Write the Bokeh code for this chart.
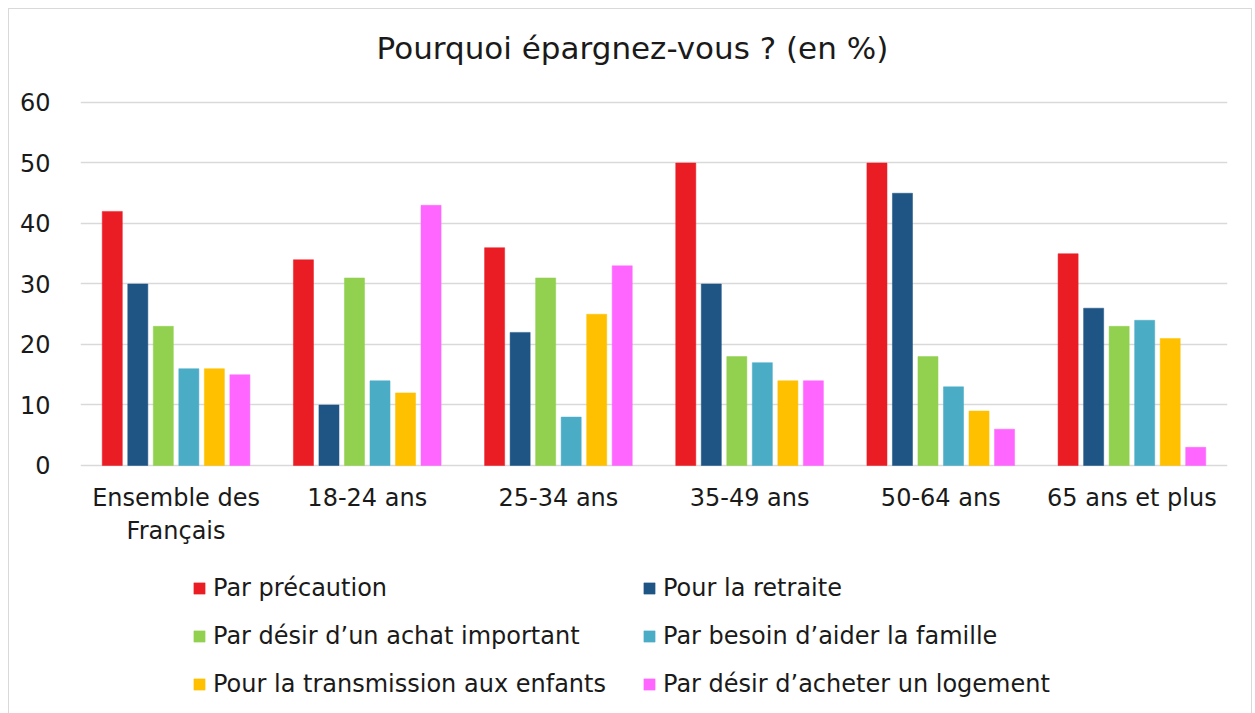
from bokeh.plotting import figure
from bokeh.models import FactorRange, Range1d, Legend, LegendItem, FixedTicker, ColumnDataSource
from bokeh.transform import dodge
from bokeh.core.properties import value
from bokeh.embed import file_html
from bokeh.resources import INLINE

categories = ["Ensemble des\nFrançais", "18-24 ans", "25-34 ans", "35-49 ans", "50-64 ans", "65 ans et plus"]
series_names = [
    "Par précaution",
    "Pour la retraite",
    "Par désir d\u2019un achat important",
    "Par besoin d\u2019aider la famille",
    "Pour la transmission aux enfants",
    "Par désir d\u2019acheter un logement",
]
precaution = [42, 34, 36, 50, 50, 35]
retraite = [30, 10, 22, 30, 45, 26]
achat = [23, 31, 31, 18, 18, 23]
famille = [16, 14, 8, 17, 13, 24]
transmission = [16, 12, 25, 14, 9, 21]
logement = [15, 43, 33, 14, 6, 3]
y_ticks = [0, 10, 20, 30, 40, 50, 60]
title_text = "Pourquoi épargnez-vous ? (en %)"

colors = ["#EA1D25", "#1F5585", "#92D050", "#4BACC6", "#FFC000", "#FF66FF"]
all_series = [precaution, retraite, achat, famille, transmission, logement]
keys = ["s0", "s1", "s2", "s3", "s4", "s5"]

data = {"cat": categories, "zero": [0] * len(categories)}
for k, s in zip(keys, all_series):
    data[k] = s
source = ColumnDataSource(data)

FONT = "DejaVu Sans"
TXT = "#1a1a1a"

# frame covers the whole chart area: title space above 60, labels and legend below 0
p = figure(
    x_range=FactorRange(*categories, range_padding=0),
    y_range=Range1d(-39.67, 75.37),
    frame_width=1147, frame_height=696,
    output_backend="svg", toolbar_location=None,
    min_border_left=71, min_border_right=24, min_border_top=0, min_border_bottom=8,
)
p.styles = {"border": "1px solid #d9d9d9", "margin-left": "8px", "margin-top": "8px"}

step = 0.1335
bw = 0.105
renderers = []
for i, (k, c) in enumerate(zip(keys, colors)):
    r = p.vbar(x=dodge("cat", (i - 2.5) * step, range=p.x_range), top=k, width=bw,
               source=source, fill_color=c, line_color=c, line_width=0.5)
    renderers.append(r)

# category labels under the zero line
p.text(x="cat", y="zero", text="cat", source=source, y_offset=19,
       text_align="center", text_baseline="top", text_font=value(FONT),
       text_font_size="24px", text_color=TXT, text_line_height=1.17)

# chart title, centred over the whole chart
title_src = ColumnDataSource(dict(x=[categories[2]], y=[y_ticks[-1]], t=[title_text]))
p.text(x="x", y="y", text="t", source=title_src, x_offset=74, y_offset=-54,
       text_align="center", text_baseline="middle", text_font=value(FONT),
       text_font_size="31px", text_color=TXT)

p.outline_line_color = None
p.xgrid.grid_line_color = None
p.ygrid.grid_line_color = "#d9d9d9"
p.ygrid.grid_line_width = 1.5
p.ygrid.ticker = FixedTicker(ticks=y_ticks)
p.yaxis.ticker = FixedTicker(ticks=y_ticks)
p.yaxis.axis_line_color = None
p.yaxis.major_tick_line_color = None
p.yaxis.minor_tick_line_color = None
p.yaxis.major_label_standoff = 24
p.yaxis.major_label_text_font = FONT
p.yaxis.major_label_text_font_size = "24px"
p.yaxis.major_label_text_color = TXT
p.xaxis.visible = False

items = [LegendItem(label=n, renderers=[r]) for n, r in zip(series_names, renderers)]
legend = Legend(items=items, orientation="horizontal", ncols=2, location=(112, 7),
                label_text_font=FONT, label_text_font_size="24px", label_text_color=TXT,
                glyph_width=14, glyph_height=14, label_standoff=7, spacing=20,
                label_height=28, label_width=409, border_line_color=None,
                background_fill_alpha=0, margin=0, padding=0)
p.add_layout(legend, "center")

open("out.html", "w").write(file_html(p, INLINE))
